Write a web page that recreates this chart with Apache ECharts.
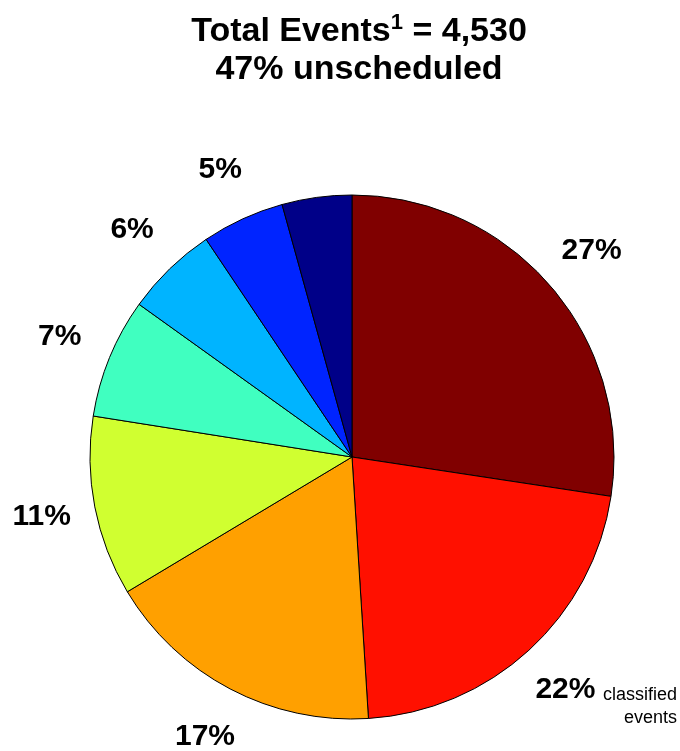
<!DOCTYPE html>
<html>
<head>
<meta charset="utf-8">
<script src="https://cdn.jsdelivr.net/npm/echarts@6/dist/echarts.min.js"></script>
<style>
  html, body { margin: 0; padding: 0; background: #fff; }
  #chart { width: 680px; height: 751px; }
</style>
</head>
<body>
<div id="chart"></div>
<script>
// Event shares (percent), clockwise from 12 o'clock
const categories = ['Group 1', 'Group 2', 'Group 3', 'Group 4', 'Group 5', 'Group 6', 'Group 7', 'Group 8'];
const shares = [27.4, 21.6, 17.4, 11.1, 7.4, 5.7, 5.1, 4.3];
const labelled = [true, true, true, true, true, true, true, false];
const totalEvents = '4,530';
const unscheduledShare = 47;

const palette = ['#800000', '#ff1000', '#ffa000', '#d0ff30', '#40ffc0', '#00b4ff', '#0024ff', '#000088'];

const font = '"Liberation Sans", Arial, sans-serif';
const cx = 352, cy = 457, R = 262;

const sliceData = categories.map((c, i) => ({
  name: c,
  value: shares[i],
  itemStyle: { color: palette[i] }
}));

const labelData = categories.map((c, i) => ({
  name: c,
  value: shares[i],
  label: { show: labelled[i] }
}));

const chart = echarts.init(document.getElementById('chart'), null, { renderer: 'canvas' });
chart.setOption({
  backgroundColor: '#ffffff',
  animation: false,
  title: {
    left: 354,
    top: 8,
    textAlign: 'center',
    text: '{a|Total Events}{sup|1}{a| = ' + totalEvents + '}\n{a|' + unscheduledShare + '% unscheduled}',
    textStyle: {
      rich: {
        a: { fontFamily: font, fontWeight: 'bold', fontSize: 34, color: '#000', lineHeight: 38 },
        sup: { fontFamily: font, fontWeight: 'bold', fontSize: 22, color: '#000', lineHeight: 38, padding: [0, 0, 18, 0] }
      }
    }
  },
  series: [
    {
      type: 'pie',
      center: [cx, cy],
      radius: [0, R],
      startAngle: 90,
      clockwise: true,
      silent: true,
      label: { show: false },
      labelLine: { show: false },
      itemStyle: { borderColor: '#000', borderWidth: 1 },
      data: sliceData
    },
    {
      type: 'pie',
      center: [cx, cy],
      radius: [296, 330],
      startAngle: 90,
      clockwise: true,
      silent: true,
      itemStyle: { color: 'rgba(0,0,0,0)', borderWidth: 0 },
      labelLine: { show: false },
      label: {
        position: 'inside',
        rotate: 0,
        formatter: p => Math.round(p.value) + '%',
        fontFamily: font,
        fontWeight: 'bold',
        fontSize: 30,
        color: '#000'
      },
      data: labelData
    }
  ],
  graphic: [
    {
      type: 'text',
      x: 677,
      y: 684,
      style: {
        text: 'classified\nevents',
        font: '18px ' + font,
        fill: '#000',
        align: 'right',
        lineHeight: 23
      }
    }
  ]
});
</script>
</body>
</html>
